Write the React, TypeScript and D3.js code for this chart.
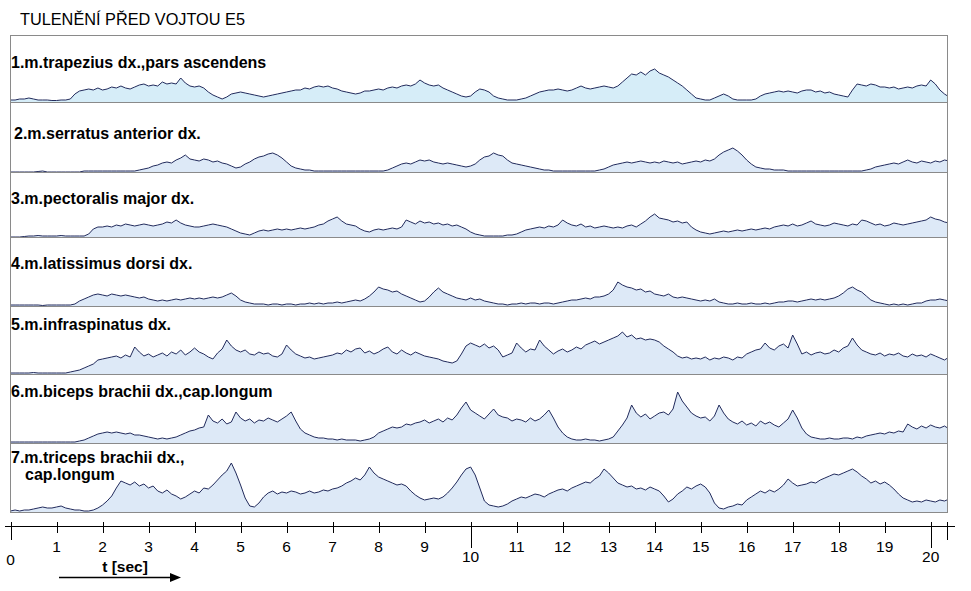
import React from "react";
import * as d3 from "d3";

const TITLE = "TULENĚNÍ PŘED VOJTOU E5";
const SAMPLE_STEP = 0.1; // seconds between samples

const MUSCLES: string[][] = [
  ["1.m.trapezius dx.,pars ascendens"],
  ["2.m.serratus anterior dx."],
  ["3.m.pectoralis major dx."],
  ["4.m.latissimus dorsi dx."],
  ["5.m.infraspinatus dx."],
  ["6.m.biceps brachii dx.,cap.longum"],
  ["7.m.triceps brachii dx.,", "cap.longum"],
];

// EMG envelopes, sampled every 0.1 s from t = 0 to 20.4 s
const TRAPEZIUS = [
  2, 2, 3, 3, 4, 3, 2, 2, 2, 1.5,
  1.5, 2, 2, 3, 8, 11, 12, 13, 12, 14,
  12, 13, 15, 14, 16, 14, 13, 15, 17, 18,
  16, 17, 16, 20, 18, 19, 18, 24, 19, 16,
  15, 16, 14, 10, 7, 5, 3, 5, 8, 9,
  10, 9, 8, 7, 6, 5, 6, 7, 8, 9,
  10, 11, 12, 12, 14, 13, 15, 16, 15, 16,
  14, 13, 11, 10, 9, 8, 9, 11, 11, 12,
  13, 12, 14, 15, 14, 16, 17, 16, 18, 22,
  19, 17, 16, 17, 14, 12, 10, 8, 6, 5,
  6, 10, 13, 12, 10, 6, 4, 3, 2, 2,
  2, 3, 4, 6, 8, 10, 11, 12, 12, 13,
  12, 11, 12, 14, 16, 14, 13, 14, 15, 16,
  15, 14, 16, 20, 24, 28, 27, 30, 27, 31,
  33, 29, 27, 25, 22, 19, 16, 12, 8, 4,
  3, 2, 2, 4, 6, 8, 6, 3, 2, 2,
  2, 2, 3, 6, 8, 9, 10, 11, 10, 11,
  10, 9, 11, 12, 12, 10, 11, 9, 10, 8,
  7, 6, 5, 12, 18, 17, 16, 18, 17, 15,
  15, 14, 15, 13, 14, 15, 14, 16, 17, 16,
  22, 18, 12, 8, 5,
];

const SERRATUS = [
  0, 0, 0, 0, 0, 0, 0.5, 1, 0, 0,
  0, 0, 0, 0, 0, 0, 1, 1, 1, 1,
  1, 1, 1, 1, 1, 1, 1, 1, 2, 3,
  4, 6, 7, 9, 10, 9, 12, 14, 17, 13,
  12, 11, 13, 12, 10, 11, 9, 8, 6, 4,
  5, 8, 10, 13, 15, 16, 18, 19, 17, 14,
  10, 6, 4, 3, 2, 2, 1, 1, 1, 1,
  1, 1, 1, 1, 1, 1, 1, 1, 1, 1,
  1, 1, 2, 4, 6, 8, 9, 8, 10, 12,
  11, 12, 10, 9, 8, 9, 8, 7, 6, 5,
  6, 8, 12, 15, 16, 19, 17, 16, 12, 9,
  8, 7, 6, 5, 4, 3, 2, 2, 1, 1,
  1, 1, 1, 1, 1, 1, 1, 1, 2, 3,
  5, 7, 8, 9, 10, 9, 10, 11, 10, 9,
  10, 9, 11, 10, 9, 10, 8, 9, 10, 11,
  10, 12, 11, 13, 17, 20, 22, 24, 21, 17,
  12, 8, 5, 4, 3, 3, 2, 2, 2, 1,
  1, 1, 1, 1, 1, 1, 1, 1, 1, 1,
  1, 1, 1, 1, 1, 1, 2, 3, 5, 6,
  7, 8, 9, 8, 10, 12, 10, 9, 11, 10,
  9, 11, 10, 12, 11,
];

const PECTORALIS = [
  0, 0, 0, 0.5, 1, 1, 1.5, 1, 1, 1,
  1, 1.5, 1, 1, 1, 1, 1, 3, 8, 10,
  10, 11, 10, 12, 11, 13, 12, 11, 12, 13,
  12, 11, 12, 13, 15, 14, 17, 14, 12, 11,
  10, 10, 11, 12, 13, 12, 11, 10, 8, 6,
  4, 3, 2, 4, 6, 7, 6, 7, 8, 7,
  8, 7, 8, 9, 8, 9, 10, 12, 13, 16,
  18, 20, 16, 13, 12, 11, 8, 6, 5, 7,
  8, 7, 8, 9, 8, 10, 17, 15, 13, 16,
  14, 15, 13, 14, 12, 13, 11, 12, 10, 8,
  5, 3, 2, 1, 1, 1, 1, 1, 2, 2,
  3, 5, 7, 8, 9, 10, 9, 11, 10, 12,
  17, 14, 12, 11, 13, 10, 11, 9, 10, 11,
  10, 9, 10, 9, 11, 12, 10, 13, 16, 20,
  23, 19, 18, 17, 15, 16, 14, 15, 10, 7,
  5, 4, 3, 4, 5, 6, 5, 6, 7, 6,
  7, 8, 7, 8, 9, 8, 10, 11, 12, 11,
  13, 11, 12, 14, 16, 13, 12, 11, 12, 14,
  13, 12, 11, 13, 12, 17, 16, 14, 12, 13,
  11, 12, 14, 13, 12, 13, 14, 15, 16, 17,
  20, 18, 17, 15, 14,
];

const LATISSIMUS = [
  1, 1, 1, 1, 1, 1, 1, 0.5, 1, 1,
  1, 1, 1, 1, 2, 5, 7, 9, 11, 12,
  11, 10, 12, 11, 10, 11, 10, 9, 8, 9,
  7, 6, 5, 6, 5, 6, 7, 6, 7, 8,
  7, 8, 7, 8, 9, 8, 9, 11, 13, 10,
  6, 4, 3, 2, 2, 2, 1, 2, 2, 1,
  2, 2, 1, 2, 2, 3, 2, 3, 2, 3,
  3, 4, 3, 4, 5, 6, 5, 7, 10, 14,
  19, 17, 16, 14, 15, 12, 10, 8, 6, 4,
  5, 9, 14, 18, 14, 12, 10, 8, 7, 6,
  8, 6, 7, 5, 4, 3, 2, 2, 1, 2,
  2, 3, 2, 3, 3, 2, 3, 3, 2, 3,
  4, 5, 6, 6, 7, 8, 7, 9, 9, 10,
  12, 16, 24, 21, 19, 18, 16, 17, 14, 15,
  12, 11, 10, 12, 9, 8, 9, 8, 7, 6,
  5, 6, 5, 7, 4, 3, 2, 2, 3, 2,
  2, 3, 2, 2, 3, 2, 3, 4, 4, 5,
  5, 4, 5, 6, 7, 6, 7, 6, 7, 8,
  10, 13, 17, 19, 16, 14, 10, 6, 4, 3,
  2, 1, 2, 1, 2, 1, 2, 3, 3, 5,
  6, 6, 7, 6, 5,
];

const INFRASPINATUS = [
  1, 1, 1, 1, 1, 1.5, 1, 1, 1, 1,
  1, 1, 1, 2, 3, 4, 6, 8, 10, 14,
  15, 16, 17, 18, 16, 19, 17, 27, 22, 18,
  20, 17, 19, 21, 18, 22, 20, 24, 19, 22,
  26, 22, 20, 17, 15, 21, 25, 34, 28, 24,
  22, 24, 20, 19, 22, 20, 21, 18, 17, 20,
  29, 24, 20, 18, 16, 17, 15, 16, 17, 18,
  19, 21, 20, 24, 22, 25, 26, 21, 23, 20,
  22, 25, 27, 22, 20, 24, 21, 19, 22, 20,
  18, 17, 16, 15, 13, 12, 11, 13, 20, 28,
  31, 29, 27, 30, 26, 28, 24, 17, 19, 21,
  31, 26, 22, 25, 24, 34, 28, 24, 20, 23,
  25, 22, 24, 27, 25, 29, 31, 33, 30, 32,
  34, 36, 38, 42, 37, 39, 35, 36, 34, 35,
  34, 32, 28, 25, 22, 18, 16, 17, 15, 16,
  15, 17, 14, 16, 15, 17, 16, 14, 17, 16,
  20, 22, 24, 25, 31, 26, 24, 28, 30, 26,
  39, 30, 20, 22, 19, 21, 22, 20, 21, 24,
  22, 26, 28, 36, 29, 24, 22, 20, 19, 21,
  18, 20, 19, 21, 18, 17, 20, 18, 19, 17,
  20, 18, 16, 14, 17,
];

const BICEPS = [
  1, 1, 1, 1, 1, 1, 1, 1, 1, 1,
  1, 1, 1, 1, 1, 2, 3, 5, 7, 9,
  10, 11, 10, 11, 10, 9, 10, 8, 8, 7,
  6, 5, 4, 5, 4, 5, 6, 8, 10, 12,
  13, 15, 16, 28, 22, 20, 24, 19, 21, 31,
  25, 22, 24, 20, 23, 22, 25, 23, 21, 24,
  27, 31, 22, 14, 10, 8, 6, 5, 5, 4,
  4, 3, 4, 3, 3, 3, 2, 3, 4, 6,
  10, 12, 14, 16, 15, 16, 19, 18, 20, 21,
  23, 20, 22, 24, 21, 25, 23, 28, 35, 41,
  33, 30, 27, 24, 29, 34, 28, 26, 25, 22,
  24, 23, 21, 25, 22, 24, 28, 33, 25, 16,
  10, 6, 4, 3, 3, 4, 3, 3, 2, 3,
  4, 6, 12, 18, 25, 38, 30, 26, 29, 24,
  27, 30, 31, 28, 34, 51, 42, 36, 30, 27,
  25, 26, 22, 27, 38, 30, 24, 21, 19, 22,
  18, 20, 17, 22, 19, 21, 18, 16, 20, 24,
  33, 25, 15, 9, 6, 5, 4, 4, 5, 4,
  4, 5, 5, 4, 6, 5, 7, 8, 9, 10,
  9, 11, 10, 12, 11, 19, 16, 14, 17, 15,
  18, 16, 15, 17, 14,
];

const TRICEPS = [
  2, 3, 2, 3, 3, 4, 5, 6, 5, 5,
  6, 7, 5, 4, 3, 3, 2, 2, 3, 5,
  8, 12, 17, 25, 32, 30, 28, 31, 27, 29,
  25, 27, 22, 20, 23, 19, 17, 14, 16, 19,
  22, 20, 25, 24, 28, 33, 38, 42, 50, 40,
  28, 15, 7, 6, 10, 16, 20, 22, 19, 21,
  20, 22, 21, 19, 20, 22, 20, 21, 23, 22,
  24, 25, 27, 30, 32, 35, 33, 38, 46, 40,
  36, 34, 32, 30, 28, 29, 27, 22, 18, 15,
  13, 14, 15, 14, 16, 20, 25, 31, 38, 44,
  46, 38, 25, 12, 8, 7, 6, 7, 9, 12,
  14, 16, 15, 17, 19, 18, 16, 19, 21, 23,
  24, 22, 25, 27, 29, 31, 30, 34, 37, 44,
  40, 35, 30, 28, 26, 27, 24, 25, 23, 26,
  24, 22, 17, 11, 14, 19, 22, 26, 24, 27,
  29, 26, 20, 10, 5, 4, 6, 7, 9, 8,
  13, 16, 19, 22, 20, 23, 21, 24, 28, 34,
  30, 27, 28, 29, 31, 30, 33, 35, 37, 39,
  38, 40, 42, 44, 41, 37, 34, 30, 32, 29,
  31, 28, 24, 19, 15, 13, 11, 12, 11, 13,
  12, 11, 13, 12, 14,
];

const SERIES = [TRAPEZIUS, SERRATUS, PECTORALIS, LATISSIMUS, INFRASPINATUS, BICEPS, TRICEPS];

const TICK_VALUES = [0, 1, 2, 3, 4, 5, 6, 7, 8, 9, 10, 11, 12, 13, 14, 15, 16, 17, 18, 19, 20];
const TICK_LABELS = ["0", "1", "2", "3", "4", "5", "6", "7", "8", "9", "10", "11", "12", "13", "14", "15", "16", "17", "18", "19", "20"];
const MAJOR_TICKS = [0, 10, 20];
const END_TICK = 20.35;
const AXIS_LABEL = "t [sec]";

const FONT = "'Liberation Sans', Arial, Helvetica, sans-serif";

export default function App() {
  const W = 971;
  const H = 591;
  const boxL = 10;
  const boxR = 948;
  const boxT = 35;
  const boxB = 513;
  const panelBottoms = [102, 172, 237, 306, 374, 443, 513];
  const labelX = [11, 14, 11, 11, 11, 11, 11];
  const labelY = [68, 139, 204, 269, 330, 397, 463];
  const fills = ["#d6edf8", "#dde9f7", "#dde9f7", "#dde9f7", "#dde9f7", "#dde9f7", "#dde9f7"];
  const lineColor = "#222b5c";

  const x = d3.scaleLinear().domain([0, 20]).range([10.5, 930.7]);
  const axisY = 526;

  return (
    <svg
      width={W}
      height={H}
      viewBox={`0 0 ${W} ${H}`}
      style={{ position: "absolute", left: 0, top: 0, background: "#fff" }}
    >
      <defs>
        <clipPath id="boxclip">
          <rect x={boxL} y={boxT} width={boxR - boxL} height={boxB - boxT} />
        </clipPath>
      </defs>
      <rect x={0} y={0} width={W} height={H} fill="#fff" />
      <text x={20} y={25} fontFamily={FONT} fontSize={16.3} fill="#000">
        {TITLE}
      </text>

      <g clipPath="url(#boxclip)">
        {SERIES.map((vals, k) => {
          const base = panelBottoms[k];
          const y = d3.scaleLinear().domain([0, 70]).range([base, base - 70]);
          const area = d3
            .area<number>()
            .x((_, i) => x(i * SAMPLE_STEP))
            .y0(base)
            .y1((d) => y(d));
          const line = d3
            .line<number>()
            .x((_, i) => x(i * SAMPLE_STEP))
            .y((d) => y(d));
          return (
            <g key={k}>
              <path d={area(vals) || ""} fill={fills[k]} stroke="none" />
              <path d={line(vals) || ""} fill="none" stroke={lineColor} strokeWidth={1} strokeLinejoin="round" />
            </g>
          );
        })}
      </g>

      {panelBottoms.slice(0, 6).map((b, k) => (
        <line key={k} x1={boxL} x2={boxR} y1={b + 0.5} y2={b + 0.5} stroke="#8a8a8a" strokeWidth={1} />
      ))}
      <rect x={boxL + 0.5} y={boxT + 0.5} width={boxR - boxL - 1} height={boxB - boxT - 1} fill="none" stroke="#8a8a8a" strokeWidth={1} />

      {MUSCLES.map((lines, k) => (
        <text key={k} fontFamily={FONT} fontSize={16} fontWeight="bold" fill="#000">
          {lines.map((ln, j) => (
            <tspan key={j} x={j === 0 ? labelX[k] : 25} y={labelY[k] + j * 17}>
              {ln}
            </tspan>
          ))}
        </text>
      ))}

      {/* time axis */}
      <line x1={5} x2={955} y1={axisY + 0.5} y2={axisY + 0.5} stroke="#000" strokeWidth={1} />
      {TICK_VALUES.map((t, i) => {
        const major = MAJOR_TICKS.includes(t);
        const px = Math.round(x(t)) + 0.5;
        const y2 = t === 0 ? 540 : major ? 548 : 533;
        const ly = t === 0 ? 565 : major ? 562 : 552;
        return (
          <g key={t}>
            <line x1={px} x2={px} y1={522} y2={y2} stroke="#000" strokeWidth={1} />
            <text x={x(t)} y={ly} textAnchor="middle" fontFamily={FONT} fontSize={15.5} fill="#000">
              {TICK_LABELS[i]}
            </text>
          </g>
        );
      })}
      <line x1={Math.round(x(END_TICK)) + 0.5} x2={Math.round(x(END_TICK)) + 0.5} y1={522} y2={540} stroke="#000" strokeWidth={1} />

      <text x={125} y={572} textAnchor="middle" fontFamily={FONT} fontSize={15.5} fontWeight="bold" fill="#000">
        {AXIS_LABEL}
      </text>
      <line x1={59} x2={171} y1={577.5} y2={577.5} stroke="#000" strokeWidth={1.5} />
      <polygon points="170,573 181,577.5 170,582" fill="#000" />
    </svg>
  );
}
